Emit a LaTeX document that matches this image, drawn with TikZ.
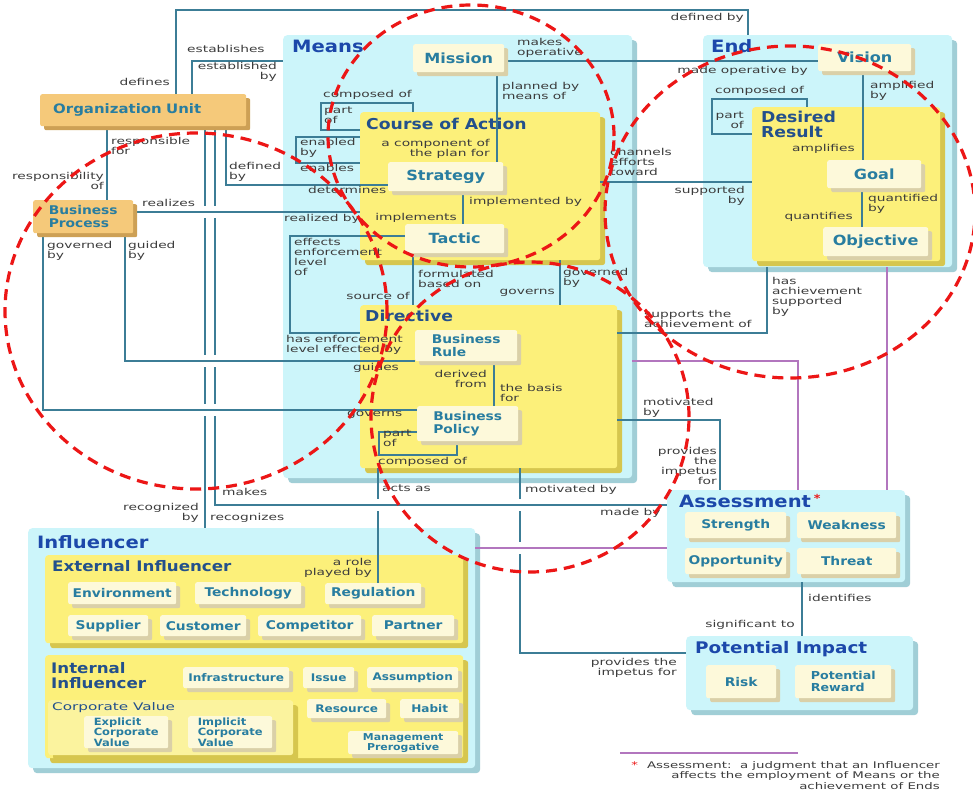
\documentclass[tikz,border=0pt]{standalone}
\usepackage{fontspec}
\setmainfont{DejaVu Sans}
\newfontfamily\lblfont[FakeStretch=1.45]{DejaVu Sans}
\newfontfamily\boxfont[FakeStretch=1.15]{DejaVu Sans}
\usepackage{tikz}
\usetikzlibrary{shadows}

% ── Colour palette ──────────────────────────────────────────
\definecolor{panelcyan}{RGB}{204,245,250}
\definecolor{paneledge}{RGB}{160,206,214}
\definecolor{boxyellow}{RGB}{252,240,122}
\definecolor{yellowedge}{RGB}{214,198,78}
\definecolor{paleyellow}{RGB}{251,243,158}
\definecolor{cream}{RGB}{253,249,218}
\definecolor{creamedge}{RGB}{218,208,168}
\definecolor{orgorange}{RGB}{245,201,122}
\definecolor{orgedge}{RGB}{205,160,85}
\definecolor{connblue}{RGB}{60,125,150}
\definecolor{assesspurple}{RGB}{178,118,190}
\definecolor{titleblue}{RGB}{28,72,170}
\definecolor{subblue}{RGB}{35,80,140}
\definecolor{elemteal}{RGB}{40,125,160}
\definecolor{lblgray}{RGB}{60,60,60}
\definecolor{ringred}{RGB}{236,22,22}

\pgfdeclarelayer{panels}
\pgfdeclarelayer{lines}
\pgfsetlayers{panels,lines,main}

\tikzset{
  sz/.style 2 args={minimum width=#1pt, minimum height=#2pt},
  panel/.style={fill=panelcyan, rounded corners=4pt, anchor=north west, inner sep=0pt,
    general shadow={fill=paneledge, shadow xshift=5pt, shadow yshift=-5pt}},
  ybox/.style={fill=boxyellow, rounded corners=3pt, anchor=north west, inner sep=0pt,
    general shadow={fill=yellowedge, shadow xshift=5pt, shadow yshift=-5pt}},
  elem/.style={fill=cream, rounded corners=2pt, anchor=north west, inner sep=0pt,
    text=elemteal, align=center, font=\boxfont\bfseries\fontsize{14}{14}\selectfont,
    general shadow={fill=creamedge, shadow xshift=4pt, shadow yshift=-4pt}},
  selem/.style={elem, font=\boxfont\bfseries\fontsize{12}{13}\selectfont},
  telem/.style={elem, font=\boxfont\bfseries\fontsize{10.5}{11}\selectfont},
  obox/.style={fill=orgorange, rounded corners=2pt, anchor=north west, inner sep=0pt,
    text=elemteal, align=left,
    general shadow={fill=orgedge, shadow xshift=4pt, shadow yshift=-4pt}},
  ptitle/.style={font=\boxfont\bfseries\fontsize{17}{18}\selectfont, text=titleblue,
    inner sep=0pt, anchor=west},
  ytitle/.style={font=\boxfont\bfseries\fontsize{15}{15}\selectfont, text=subblue,
    inner sep=0pt, anchor=west, align=left},
  lbl/.style={font=\lblfont\fontsize{9.5}{10}\selectfont, text=lblgray, inner sep=0pt,
    align=left, anchor=north west},
  lbr/.style={lbl, align=right, anchor=north east},
  conn/.style={draw=connblue, line width=1.7pt},
  aconn/.style={draw=assesspurple, line width=1.2pt},
  ring/.style={draw=ringred, line width=3.2pt, dash pattern=on 11pt off 7pt},
}

\begin{document}
\begin{tikzpicture}[x=1pt, y=-1pt]
\useasboundingbox (0,0) rectangle (973,797);

% ── Panels and yellow groups ────────────────────────────────
\begin{pgfonlayer}{panels}
\fill[white] (0,0) rectangle (973,797);
\node[panel, sz={349}{443}] (means) at (283,35) {};
\node[panel, sz={249}{232}] (endp) at (703,35) {};
\node[panel, sz={447}{240}] (infl) at (28,528) {};
\node[panel, sz={238}{92}] (assess) at (667,490) {};
\node[panel, sz={227}{74}] (pimpact) at (686,636) {};

\node[ybox, sz={240}{148}] (coa) at (360,112) {};
\node[ybox, sz={257}{163}] (directive) at (360,305) {};
\node[ybox, sz={188}{154}] (desired) at (752,107) {};
\node[ybox, sz={418}{88}] (extinf) at (45,555) {};
\node[ybox, sz={418}{103}] (intinf) at (45,655) {};
\node[ybox, fill=paleyellow, sz={245}{55}] (corpval) at (48,700) {};
\end{pgfonlayer}

% ── Titles ──────────────────────────────────────────────────
\node[ptitle] (t-means) at (292,46) {Means};
\node[ptitle] (t-end) at (711,46) {End};
\node[ptitle] (t-infl) at (37,542) {Influencer};
\node[ptitle] (t-assess) at (679,501)
  {Assessment\,\raisebox{5pt}{\textcolor{ringred}{\fontsize{11}{11}\selectfont*}}};
\node[ptitle, font=\boxfont\bfseries\fontsize{16}{16}\selectfont] (t-pimpact) at (695,649) {Potential Impact};
\node[ytitle] (t-coa) at (366,124) {Course of Action};
\node[ytitle] (t-dir) at (365,316) {Directive};
\node[ytitle, anchor=north west] (t-desired) at (761,111) {Desired\\Result};
\node[ytitle, font=\boxfont\bfseries\fontsize{14.5}{15}\selectfont] (t-ext) at (52,566) {External Influencer};
\node[ytitle, anchor=north west, font=\boxfont\bfseries\fontsize{14.5}{15}\selectfont] (t-int) at (51,662) {Internal\\Influencer};
\node[lbl, font=\lblfont\fontsize{10.5}{11}\selectfont, text=subblue] (t-corp) at (52,702) {Corporate Value};

% ── Means elements ──────────────────────────────────────────
\node[elem, sz={91}{28}] (mission) at (413,44) {Mission};
\node[elem, sz={115}{29}] (strategy) at (388,162) {Strategy};
\node[elem, sz={99}{29}] (tactic) at (405,224) {Tactic};
\node[selem, sz={102}{31}, align=left] (brule) at (415,330) {Business\\Rule};
\node[selem, sz={101}{35}, align=left] (bpolicy) at (417,406) {Business\\Policy};

% ── End elements ────────────────────────────────────────────
\node[elem, sz={93}{27}] (vision) at (818,44) {Vision};
\node[elem, sz={94}{28}] (goal) at (827,160) {Goal};
\node[elem, sz={105}{29}] (objective) at (823,227) {Objective};

% ── Assessment / Potential Impact ───────────────────────────
\node[selem, sz={101}{26}] (strength) at (685,512) {Strength};
\node[selem, sz={99}{26}] (weakness) at (797,512) {Weakness};
\node[selem, sz={101}{26}] (opportunity) at (685,548) {Opportunity};
\node[selem, sz={99}{26}] (threat) at (797,548) {Threat};
\node[selem, sz={70}{33}] (risk) at (706,665) {Risk};
\node[selem, sz={96}{33}, align=left, font=\boxfont\bfseries\fontsize{11}{12}\selectfont] (preward) at (795,665) {Potential\\Reward};

% ── Influencer elements ─────────────────────────────────────
\node[selem, sz={108}{22}] (environment) at (68,582) {Environment};
\node[selem, sz={106}{22}] (technology) at (195,582) {Technology};
\node[selem, sz={96}{21}] (regulation) at (325,583) {Regulation};
\node[selem, sz={80}{21}] (supplier) at (68,615) {Supplier};
\node[selem, sz={86}{21}] (customer) at (160,615) {Customer};
\node[selem, sz={103}{21}] (competitor) at (258,615) {Competitor};
\node[selem, sz={82}{21}] (partner) at (372,615) {Partner};
\node[telem, sz={106}{21}] (infrastructure) at (183,667) {Infrastructure};
\node[telem, sz={51}{21}] (issue) at (303,667) {Issue};
\node[telem, sz={91}{21}] (assumption) at (367,667) {Assumption};
\node[telem, sz={79}{19}] (resource) at (307,699) {Resource};
\node[telem, sz={59}{19}] (habit) at (400,699) {Habit};
\node[telem, sz={110}{23}, font=\boxfont\bfseries\fontsize{9.5}{10}\selectfont] (mgmt) at (348,731) {Management\\Prerogative};
\node[telem, sz={84}{32}, align=left, font=\boxfont\bfseries\fontsize{10}{10.5}\selectfont] (explicit) at (84,716) {Explicit\\Corporate\\Value};
\node[telem, sz={84}{32}, align=left, font=\boxfont\bfseries\fontsize{10}{10.5}\selectfont] (implicit) at (188,716) {Implicit\\Corporate\\Value};

% ── Organization Unit / Business Process ────────────────────
\node[obox, sz={206}{32}, text width=180pt, font=\boxfont\bfseries\fontsize{13}{13}\selectfont] (orgunit) at (40,94) {Organization Unit};
\node[obox, sz={100}{33}, font=\boxfont\bfseries\fontsize{12}{13}\selectfont] (bprocess) at (33,200) {Business\\Process};

% ── Connectors ──────────────────────────────────────────────
\begin{pgfonlayer}{lines}
\draw[conn] (orgunit.north -| 176,0) -- (176,10) -| (endp.north -| 748,0);
\draw[conn] (orgunit.north -| 192,0) |- (means.west |- 0,61);
\draw[conn] (orgunit.south -| 107,0) -- (bprocess.north -| 107,0);
\draw[conn] (orgunit.south -| 226,0) |- (strategy.west |- 0,185);
\draw[conn] (orgunit.south -| 205,0) -- (infl.north -| 205,0);
\draw[conn] (orgunit.south -| 215,0) |- (assess.west |- 0,505);
\draw[conn] (bprocess.east |- 0,212) -- (coa.west |- 0,212);
\draw[conn] (bprocess.south -| 43,0) |- (bpolicy.west |- 0,410);
\draw[conn] (bprocess.south -| 125,0) |- (brule.west |- 0,361);
\draw[conn] (coa.north -| 413,0) |- (321,103) |- (coa.west |- 0,130);
\draw[conn] (coa.west |- 0,137) -- (296,137) -- (296,163) -- (coa.west |- 0,163);
\draw[conn] (mission.south -| 497,0) -- (strategy.north -| 497,0);
\draw[conn] (mission.east |- 0,61) -- (vision.west |- 0,61);
\draw[conn] (strategy.south -| 463,0) -- (tactic.north -| 463,0);
\draw[conn] (coa.east |- 0,182) -- (desired.west |- 0,182);
\draw[conn] (vision.south -| 863,0) -- (goal.north -| 863,0);
\draw[conn] (goal.south -| 862,0) -- (objective.north -| 862,0);
\draw[conn] (desired.north -| 807,0) |- (712,99) |- (desired.west |- 0,134);
\draw[conn] (tactic.west |- 0,236) -| (290,285) |- (directive.west |- 0,333);
\draw[conn] (tactic.south -| 413,0) -- (directive.north -| 413,0);
\draw[conn] (coa.south -| 560,0) -- (directive.north -| 560,0);
\draw[conn] (brule.south -| 494,0) -- (bpolicy.north -| 494,0);
\draw[conn] (bpolicy.west |- 0,432) -| (379,445) |- (457,455) -- (bpolicy.south -| 457,0);
\draw[conn] (directive.east |- 0,333) -| (endp.south -| 767,0);
\draw[conn] (directive.east |- 0,420) -| (assess.north -| 720,0);
\draw[conn] (directive.south -| 378,0) -- (regulation.north -| 378,0);
\draw[conn] (directive.south -| 520,0) |- (pimpact.west |- 0,653);
\draw[conn] (assess.south -| 802,0) -- (pimpact.north -| 802,0);
\draw[aconn] (means.east |- 0,361) -| (assess.north -| 798,0);
\draw[aconn] (endp.south -| 887,0) -- (assess.north -| 887,0);
\draw[aconn] (infl.east |- 0,548) -- (assess.west |- 0,548);
\end{pgfonlayer}

% ── Line jumps ──────────────────────────────────────────────
\foreach \gx/\gy in {205/212, 215/212, 205/361, 215/361, 205/410, 215/410, 378/505, 520/505}{
  \fill[white] (\gx-4,\gy-6) rectangle (\gx+4,\gy+6);
  \draw[conn] (\gx-6,\gy) -- (\gx+6,\gy);
}
\fill[white] (516,542) rectangle (524,554);
\draw[aconn] (514,548) -- (526,548);

% ── Connector labels ────────────────────────────────────────
\node[lbl] (l-estab) at (187,45) {establishes};
\node[lbr] (l-estby) at (277,62) {established\\by};
\node[lbr] (l-defines) at (170,78) {defines};
\node[lbr] (l-defby2) at (744,13) {defined by};
\node[lbl] (l-resp) at (111,137) {responsible\\for};
\node[lbr] (l-respof) at (104,172) {responsibility\\of};
\node[lbl] (l-defby) at (229,162) {defined\\by};
\node[lbl] (l-determ) at (308,186) {determines};
\node[lbl] (l-realizes) at (142,199) {realizes};
\node[lbl] (l-realby) at (284,214) {realized by};
\node[lbl] (l-govby) at (47,241) {governed\\by};
\node[lbl] (l-guidby) at (128,241) {guided\\by};
\node[lbl] (l-comp1) at (323,90) {composed of};
\node[lbl] (l-part1) at (324,107) {part\\of};
\node[lbl] (l-enabby) at (300,138) {enabled\\by};
\node[lbl] (l-enables) at (300,164) {enables};
\node[lbl] (l-effects) at (294,238) {effects\\enforcement\\level\\of};
\node[lbl] (l-hasenf) at (286,335) {has enforcement\\level effected by};
\node[lbl] (l-guides) at (353,363) {guides};
\node[lbl] (l-governs1) at (347,411) {governs};
\node[lbl] (l-makesop) at (517,38) {makes\\operative};
\node[lbr] (l-madeop) at (808,66) {made operative by};
\node[lbl] (l-planned) at (502,82) {planned by\\means of};
\node[lbr] (l-compof) at (490,139) {a component of\\the plan for};
\node[lbl] (l-implby) at (469,197) {implemented by};
\node[lbr] (l-implements) at (457,213) {implements};
\node[lbl] (l-channels) at (610,148) {channels\\efforts\\toward};
\node[lbr] (l-suppby) at (745,186) {supported\\by};
\node[lbl] (l-comp2) at (715,86) {composed of};
\node[lbr] (l-part2) at (744,112) {part\\of};
\node[lbl] (l-amplby) at (870,81) {amplified\\by};
\node[lbr] (l-amplifies) at (855,144) {amplifies};
\node[lbl] (l-quantby) at (868,194) {quantified\\by};
\node[lbr] (l-quantifies) at (853,212) {quantifies};
\node[lbl] (l-formul) at (418,270) {formulated\\based on};
\node[lbr] (l-source) at (410,292) {source of};
\node[lbl] (l-govby2) at (563,268) {governed\\by};
\node[lbr] (l-governs2) at (555,289) {governs};
\node[lbr] (l-derived) at (487,370) {derived\\from};
\node[lbl] (l-basis) at (500,384) {the basis\\for};
\node[lbl] (l-part3) at (383,430) {part\\of};
\node[lbl] (l-comp3) at (378,457) {composed of};
\node[lbl] (l-supports) at (644,310) {supports the\\achievement of};
\node[lbl] (l-hasach) at (772,277) {has\\achievement\\supported\\by};
\node[lbl] (l-motby2) at (643,398) {motivated\\by};
\node[lbr] (l-impetus1) at (717,447) {provides\\the\\impetus\\for};
\node[lbl] (l-makes) at (222,488) {makes};
\node[lbl] (l-madeby) at (600,508) {made by};
\node[lbr] (l-recby) at (199,503) {recognized\\by};
\node[lbl] (l-recognizes) at (210,513) {recognizes};
\node[lbl] (l-actsas) at (382,485) {acts as};
\node[lbr] (l-role) at (372,558) {a role\\played by};
\node[lbl] (l-motby1) at (525,485) {motivated by};
\node[lbr] (l-impetus2) at (677,658) {provides the\\impetus for};
\node[lbl] (l-identifies) at (808,594) {identifies};
\node[lbr] (l-signif) at (795,620) {significant to};

% ── Footnote ────────────────────────────────────────────────
\draw[aconn] (620,753) -- (798,753);
\node[lbr, font=\lblfont\fontsize{9.2}{10.5}\selectfont] (fnote) at (940,761)
  {\textcolor{ringred}{*}\hspace{9pt}Assessment:\ \ a judgment that an Influencer\\affects the employment of Means or the\\achievement of Ends};

% ── Red dashed rings ────────────────────────────────────────
\draw[ring] (471,136) ellipse [x radius=143pt, y radius=131pt];
\draw[ring] (790,212) ellipse [x radius=185pt, y radius=166pt];
\draw[ring] (196,311) ellipse [x radius=191pt, y radius=178pt];
\draw[ring] (530,417) ellipse [x radius=159pt, y radius=155pt];

\end{tikzpicture}
\end{document}
